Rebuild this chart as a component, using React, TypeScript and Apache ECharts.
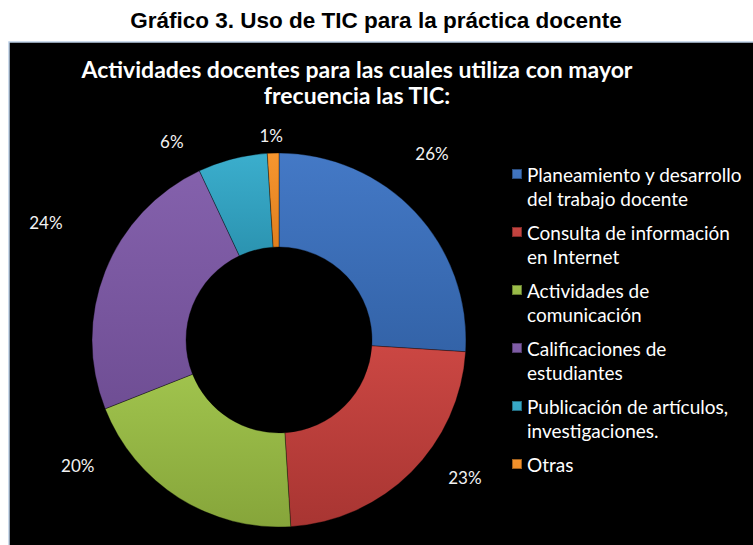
import React, { useEffect, useRef } from "react";
import * as echarts from "echarts";

// ---- data ----
const categories = [
  "Planeamiento y desarrollo del trabajo docente",
  "Consulta de información en Internet",
  "Actividades de comunicación",
  "Calificaciones de estudiantes",
  "Publicación de artículos, investigaciones.",
  "Otras",
];
const values = [26, 23, 20, 24, 6, 1];
const legendLines = [
  "Planeamiento y desarrollo\ndel trabajo docente",
  "Consulta de información\nen Internet",
  "Actividades de\ncomunicación",
  "Calificaciones de\nestudiantes",
  "Publicación de artículos,\ninvestigaciones.",
  "Otras\n ",
];
const mainTitle = "Gráfico 3. Uso de TIC para la práctica docente";
const chartTitle = "Actividades docentes para las cuales utiliza con mayor\nfrecuencia las TIC:";

// ---- styles / layout ----
const colorTop = ["#4479C6", "#CB4743", "#A0C34D", "#8461AC", "#3BAECD", "#F7962F"];
const colorBottom = ["#3363A8", "#A83532", "#86A53A", "#6F4E94", "#2B93B0", "#E07F1E"];
const CX = 279;
const CY = 340;
const R_IN = 93;
const R_OUT = 187;
// label placement (angle clockwise from top in degrees, distance from centre in px)
const labelPolar: [number, number][] = [
  [39.4, 241],
  [126.4, 231],
  [238.1, 237],
  [296.7, 261],
  [331.7, 226],
  [357.8, 205],
];

const LEGEND_ICON =
  "path://M0,0h0.01v0.01h-0.01z M0,7h10v10h-10z M0,47.99h0.01v0.01h-0.01z";

export default function App() {
  const ref = useRef<HTMLDivElement>(null);
  useEffect(() => {
    if (!ref.current) return;
    const chart = echarts.init(ref.current, undefined, { renderer: "svg" });
    const grad = (i: number) =>
      new echarts.graphic.LinearGradient(0, 0, 0, 1, [
        { offset: 0, color: colorTop[i] },
        { offset: 1, color: colorBottom[i] },
      ]);
    chart.setOption({
      animation: false,
      backgroundColor: "#ffffff",
      graphic: [
        {
          type: "rect",
          z: -10,
          shape: { x: 9, y: 42, width: 760, height: 520 },
          style: { fill: "#000000", stroke: "#BCCFE6", lineWidth: 1.5 },
        },
        {
          type: "text",
          x: 376,
          y: 20,
          style: {
            text: mainTitle,
            fill: "#000000",
            font: "bold 22.5px 'Liberation Sans', Arial, sans-serif",
            textAlign: "center",
            textVerticalAlign: "middle",
          },
        },
        {
          type: "text",
          x: 357,
          y: 56,
          style: {
            text: chartTitle,
            fill: "#ffffff",
            font: "bold 23px Lato, 'Open Sans', sans-serif",
            lineHeight: 26,
            textAlign: "center",
            textVerticalAlign: "top",
          },
        },
      ],
      legend: {
        orient: "vertical",
        left: 511,
        top: 161,
        padding: 0,
        itemGap: 8,
        itemWidth: 10,
        itemHeight: 48,
        icon: LEGEND_ICON,
        formatter: (name: string) => legendLines[categories.indexOf(name)],
        textStyle: {
          color: "#ffffff",
          fontFamily: "Lato, 'Open Sans', sans-serif",
          fontSize: 19,
          lineHeight: 24,
        },
        data: categories,
      },
      series: [
        {
          type: "pie",
          center: [CX, CY],
          radius: [R_IN, R_OUT],
          startAngle: 90,
          clockwise: true,
          avoidLabelOverlap: false,
          itemStyle: { borderColor: "rgba(0,0,0,0.35)", borderWidth: 1 },
          label: {
            show: true,
            position: "outside",
            color: "#F2F2F2",
            fontFamily: "Lato, 'Open Sans', sans-serif",
            fontSize: 17,
            formatter: (p: any) => `${p.value}%`,
          },
          labelLine: { show: false },
          labelLayout: (p: any) => {
            const [a, d] = labelPolar[p.dataIndex];
            const rad = (a * Math.PI) / 180;
            return {
              x: CX + d * Math.sin(rad),
              y: CY - d * Math.cos(rad),
              align: "center",
              verticalAlign: "middle",
            };
          },
          emphasis: { disabled: true },
          data: categories.map((name, i) => ({
            name,
            value: values[i],
            itemStyle: { color: grad(i) },
          })),
        },
      ],
    });
    return () => chart.dispose();
  }, []);
  return (
    <div
      ref={ref}
      style={{ position: "absolute", left: 0, top: 0, width: 753, height: 545 }}
    />
  );
}
